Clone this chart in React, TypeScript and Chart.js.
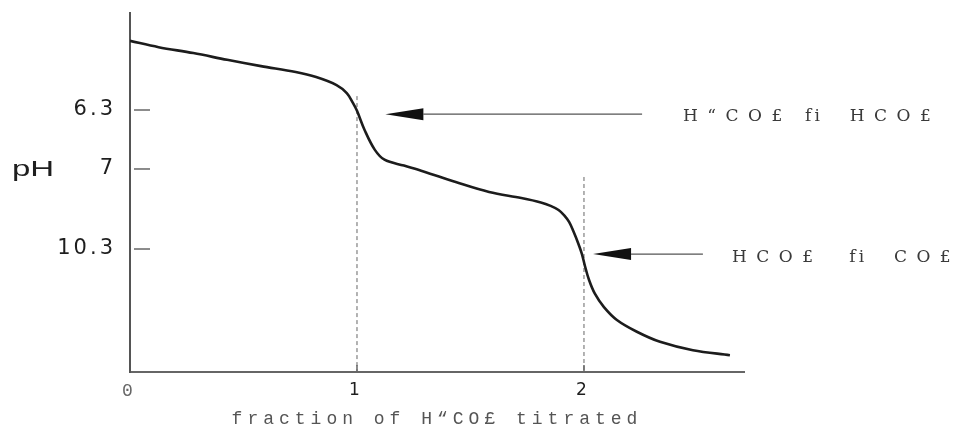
import React, { useEffect, useRef } from 'react';
import { Chart, registerables, LinearScale } from 'chart.js';

// ---------------- data ----------------
const FRACTION_TITRATED = [
  0, 0.126, 0.279, 0.428, 0.577, 0.73, 0.82, 0.91, 0.955, 0.982,
  1.0, 1.034, 1.078, 1.121, 1.207, 1.293, 1.435, 1.582, 1.724, 1.81,
  1.853, 1.888, 1.914, 1.935, 1.953, 1.974, 1.991, 2.004, 2.022, 2.048,
  2.088, 2.145, 2.233, 2.335, 2.48, 2.643,
];
const PH_VALUES = [
  4.66, 4.81, 4.95, 5.11, 5.26, 5.4, 5.52, 5.71, 5.9, 6.13,
  6.31, 6.54, 6.77, 6.89, 6.96, 7.1, 7.54, 7.95, 8.2, 8.38,
  8.52, 8.69, 8.92, 9.19, 9.56, 10.05, 10.39, 10.6, 10.85, 11.1,
  11.34, 11.57, 11.78, 11.96, 12.11, 12.2,
];
const X_TICKS = [0, 1, 2];
const X_TICK_LABELS = ['0', '1', '2'];
const Y_TICKS = [6.3, 7, 10.3];
const Y_TICK_LABELS = ['6.3', '7', '10.3'];
const X_MAX = 2.705;
const X_TITLE = 'fraction of H\u201CCO£ titrated';
const Y_TITLE = 'pH';

// equivalence points (dashed guides)
const EQUIVALENCE_X = [1, 2];
const EQUIVALENCE_TOP_PH = [5.97, 7.33];

// arrows with their labels
const ARROW_TAIL_X = [2.256, 2.524];
const ARROW_TIP_X = [1.125, 2.04];
const ARROW_PH = [6.35, 10.39];
const ARROW_LABELS = ['H\u201CCO£ fi  HCO£', 'HCO£  fi  CO£'];
const ARROW_LABEL_X = [2.436, 2.652];
const ARROW_LABEL_PH = [6.38, 10.46];

// schematic (non-linear) pH axis: break values and relative position from top
const PH_BREAKS = [4, 6.3, 7, 10.3, 12.5];
const PH_BREAK_POS = [0, 0.2702, 0.4345, 0.6574, 1];

// ---------------- custom piecewise scale ----------------
class PiecewiseScale extends LinearScale {
  static id = 'piecewise';
  static defaults = {};
  getPixelForValue(value: number) {
    if (value === null || value === undefined || isNaN(value)) return NaN;
    const s = PH_BREAKS;
    const p = PH_BREAK_POS;
    let i = 0;
    while (i < s.length - 2 && value > s[i + 1]) i++;
    const t = (value - s[i]) / (s[i + 1] - s[i]);
    return this.getPixelForDecimal(p[i] + t * (p[i + 1] - p[i]));
  }
  getValueForPixel(pixel: number) {
    const d = this.getDecimalForPixel(pixel);
    const s = PH_BREAKS;
    const p = PH_BREAK_POS;
    let i = 0;
    while (i < p.length - 2 && d > p[i + 1]) i++;
    const t = (d - p[i]) / (p[i + 1] - p[i]);
    return s[i] + t * (s[i + 1] - s[i]);
  }
  drawLabels(area: any) {
    const ctx = (this as any).ctx;
    ctx.save();
    ctx.letterSpacing = '3px';
    super.drawLabels(area);
    ctx.restore();
  }
}

Chart.register(...registerables, PiecewiseScale);

function drawSpacedLabel(ctx: any, text: string, x0: number, y0: number) {
  const tokens = text.split(/( +)/).filter((t) => t.length > 0);
  let cx = x0;
  tokens.forEach((tok) => {
    ctx.letterSpacing = tok === 'fi' ? '3px' : tok.trim().length === 0 ? '8px' : '9.5px';
    if (tok.trim().length > 0) ctx.fillText(tok, cx, y0);
    cx += ctx.measureText(tok).width;
  });
  ctx.letterSpacing = '0px';
}

const annotate = {
  id: 'annotate',
  beforeDraw(chart: any) {
    chart.ctx.letterSpacing = '5px';
  },
  beforeDatasetsDraw(chart: any) {
    chart.ctx.letterSpacing = '0px';
  },
  afterDatasetsDraw(chart: any) {
    const { ctx, chartArea } = chart;
    const x = chart.scales.x;
    const y = chart.scales.y;
    ctx.save();
    ctx.letterSpacing = '0px';
    // inside tick marks on the pH axis
    ctx.strokeStyle = '#666';
    ctx.lineWidth = 1.5;
    Y_TICKS.forEach((v) => {
      const py = y.getPixelForValue(v);
      ctx.beginPath();
      ctx.moveTo(chartArea.left + 4, py);
      ctx.lineTo(chartArea.left + 20, py);
      ctx.stroke();
    });
    // inside tick marks on the fraction axis
    X_TICKS.forEach((v) => {
      if (v === 0) return;
      const px = x.getPixelForValue(v);
      ctx.beginPath();
      ctx.moveTo(px, chartArea.bottom);
      ctx.lineTo(px, chartArea.bottom - 7);
      ctx.stroke();
    });
    // arrows
    ARROW_TIP_X.forEach((tipX, i) => {
      const py = y.getPixelForValue(ARROW_PH[i]);
      const tip = x.getPixelForValue(tipX);
      const tail = x.getPixelForValue(ARROW_TAIL_X[i]);
      const headLen = 38;
      const headHalf = 6;
      ctx.strokeStyle = '#555';
      ctx.lineWidth = 1.2;
      ctx.beginPath();
      ctx.moveTo(tail, py);
      ctx.lineTo(tip + headLen, py);
      ctx.stroke();
      ctx.fillStyle = '#111';
      ctx.beginPath();
      ctx.moveTo(tip, py);
      ctx.lineTo(tip + headLen, py - headHalf);
      ctx.lineTo(tip + headLen, py + headHalf);
      ctx.closePath();
      ctx.fill();
      // label
      ctx.font = '17px "DejaVu Serif", serif';
      ctx.fillStyle = '#3a3a3a';
      ctx.textAlign = 'left';
      ctx.textBaseline = 'middle';
      drawSpacedLabel(
        ctx,
        ARROW_LABELS[i],
        x.getPixelForValue(ARROW_LABEL_X[i]),
        y.getPixelForValue(ARROW_LABEL_PH[i])
      );
    });
    // "pH" axis label
    ctx.save();
    ctx.translate(12, y.getPixelForValue(7) + 1);
    ctx.scale(1.5, 1);
    ctx.font = '22px "Liberation Sans", Arial, sans-serif';
    ctx.letterSpacing = '0px';
    ctx.fillStyle = '#1e1e1e';
    ctx.textAlign = 'left';
    ctx.textBaseline = 'middle';
    ctx.fillText(Y_TITLE, 0, 0);
    ctx.restore();
    ctx.restore();
  },
};

export default function App() {
  const ref = useRef<HTMLCanvasElement | null>(null);
  useEffect(() => {
    const canvas = ref.current;
    if (!canvas) return;
    const lastPH = PH_BREAKS[PH_BREAKS.length - 1];
    const chart = new Chart(canvas, {
      type: 'scatter',
      data: {
        datasets: [
          {
            data: FRACTION_TITRATED.map((fx, i) => ({ x: fx, y: PH_VALUES[i] })),
            showLine: true,
            borderColor: '#1c1c1c',
            borderWidth: 2.6,
            pointRadius: 0,
            tension: 0.35,
            fill: false,
          },
          ...EQUIVALENCE_X.map((ex, i) => ({
            data: [
              { x: ex, y: EQUIVALENCE_TOP_PH[i] },
              { x: ex, y: lastPH },
            ],
            showLine: true,
            borderColor: '#666',
            borderWidth: 1,
            borderDash: [4, 3],
            pointRadius: 0,
            fill: false,
          })),
        ],
      } as any,
      options: {
        responsive: false,
        animation: false,
        events: [],
        layout: { padding: { left: 0, right: 215, top: 13, bottom: 0 } },
        plugins: { legend: { display: false }, tooltip: { enabled: false } },
        scales: {
          x: {
            type: 'linear',
            min: 0,
            max: X_MAX,
            afterBuildTicks: (s: any) => {
              s.ticks = X_TICKS.map((v) => ({ value: v }));
            },
            afterFit: (s: any) => {
              s.height = 58;
              s.paddingLeft = 0;
              s.paddingRight = 0;
            },
            grid: { display: false, drawTicks: false },
            border: { display: true, color: '#666', width: 2 },
            ticks: {
              padding: 8,
              autoSkip: false,
              maxRotation: 0,
              callback: (_v: any, index: number) => X_TICK_LABELS[index],
              font: (c: any) =>
                c.index === 0
                  ? { family: '"Liberation Mono", monospace', size: 18 }
                  : { family: '"DejaVu Sans", sans-serif', size: 17 },
              color: (c: any) => (c.index === 0 ? '#666' : '#1e1e1e'),
            },
            title: {
              display: true,
              text: X_TITLE,
              font: { family: '"Liberation Mono", monospace', size: 18 },
              color: '#555',
              padding: { top: 0, bottom: 0 },
            },
          },
          y: {
            type: 'piecewise',
            min: PH_BREAKS[0],
            max: lastPH,
            reverse: true,
            afterBuildTicks: (s: any) => {
              s.ticks = Y_TICKS.map((v) => ({ value: v }));
            },
            afterFit: (s: any) => {
              s.width = 130;
              s.paddingTop = 0;
              s.paddingBottom = 0;
            },
            grid: { display: false, drawTicks: false },
            border: { display: true, color: '#555', width: 2 },
            ticks: {
              padding: 14,
              autoSkip: false,
              callback: (_v: any, index: number) => Y_TICK_LABELS[index],
              font: { family: '"DejaVu Sans", sans-serif', size: 21 },
              color: '#1e1e1e',
            },
          },
        } as any,
      },
      plugins: [annotate],
    });
    return () => chart.destroy();
  }, []);

  return (
    <div style={{ position: 'fixed', left: 0, top: 0, width: 959, height: 430, background: '#fff' }}>
      <canvas ref={ref} width={959} height={430} style={{ width: 959, height: 430, display: 'block' }} />
    </div>
  );
}
